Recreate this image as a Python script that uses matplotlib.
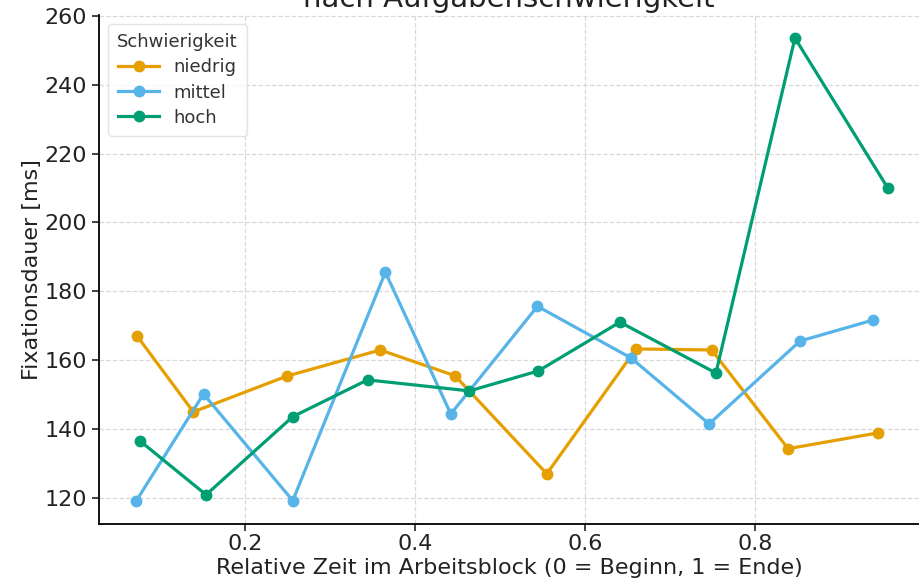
import numpy as np
import matplotlib.pyplot as plt

# =========================================
# DATA
# =========================================
x_niedrig = [0.073, 0.139, 0.249, 0.359, 0.447, 0.555, 0.660, 0.749, 0.839, 0.945]
y_niedrig = [166.9, 144.9, 155.3, 162.9, 155.4, 126.9, 163.2, 162.9, 134.2, 138.8]

x_mittel = [0.072, 0.151, 0.256, 0.365, 0.442, 0.544, 0.654, 0.746, 0.853, 0.939]
y_mittel = [119.1, 150.1, 119.1, 185.5, 144.3, 175.6, 160.6, 141.4, 165.5, 171.6]

x_hoch = [0.076, 0.154, 0.256, 0.344, 0.464, 0.545, 0.641, 0.754, 0.847, 0.956]
y_hoch = [136.5, 120.8, 143.5, 154.2, 151.0, 156.8, 171.0, 156.2, 253.6, 210.1]

series = [
    ("niedrig", x_niedrig, y_niedrig, "#E69F00"),
    ("mittel", x_mittel, y_mittel, "#56B4E9"),
    ("hoch", x_hoch, y_hoch, "#009E73"),
]

# =========================================
# PLOT
# =========================================
fig = plt.figure(figsize=(9.19, 5.83), dpi=100)
ax = fig.add_axes([99 / 919, 1 - 524 / 583, 1 - 99 / 919, (524 - 15) / 583])

for name, xs, ys, col in series:
    ax.plot(xs, ys, marker="o", markersize=7.5, linewidth=2.3, color=col, label=name)

ax.set_ylim(112.3, 260.3)
ax.set_xlim(0.028, 0.993)
ax.set_yticks(np.arange(120, 261, 20))
ax.set_xticks([0.2, 0.4, 0.6, 0.8])

ax.grid(True, linestyle="--", color="#d9d9d9", linewidth=0.9)
ax.set_axisbelow(True)
for s in ["top", "right"]:
    ax.spines[s].set_visible(False)
ax.spines["left"].set_linewidth(1.3)
ax.spines["bottom"].set_linewidth(1.3)
ax.tick_params(labelsize=16, length=5, width=1.2, colors="#222222")
ax.tick_params(axis="x", pad=2)

ax.set_xlabel("Relative Zeit im Arbeitsblock (0 = Beginn, 1 = Ende)", fontsize=16,
              color="#222222", labelpad=3)
ax.set_ylabel("Fixationsdauer [ms]", fontsize=16, color="#222222", labelpad=2)
ax.set_title("Fixationsdauer über die Zeit\nnach Aufgabenschwierigkeit", fontsize=21,
             color="#222222", pad=5.5)

leg = ax.legend(title="Schwierigkeit", loc="upper left", fontsize=13, title_fontsize=13,
                frameon=True, borderpad=0.5, handlelength=2.3, labelspacing=0.4)
leg.get_frame().set_edgecolor("#dddddd")
for t in leg.get_texts():
    t.set_color("#333333")
leg.get_title().set_color("#333333")

plt.savefig("out.png", dpi=100)
